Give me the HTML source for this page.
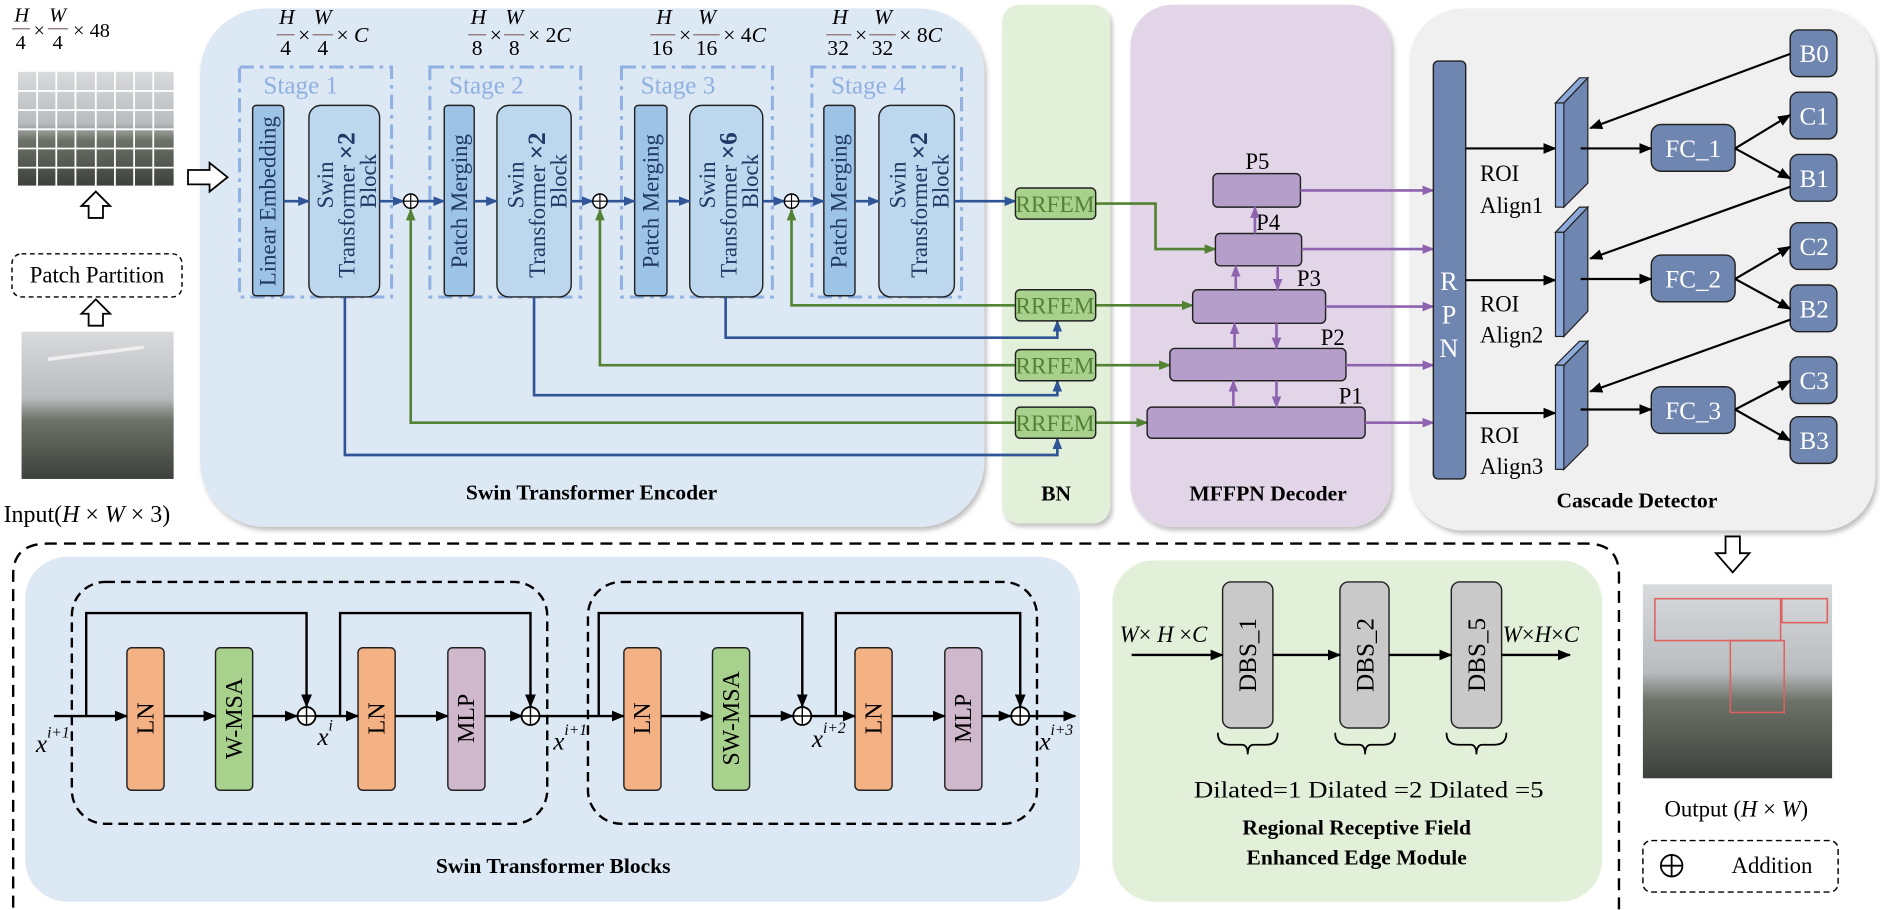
<!DOCTYPE html>
<html><head><meta charset="utf-8"><style>
html,body{margin:0;padding:0;background:#fff;}
svg{display:block;}
text{font-family:"Liberation Serif",serif;}
</style></head><body>
<svg width="1880" height="910" viewBox="0 0 1570 760" preserveAspectRatio="none" xmlns="http://www.w3.org/2000/svg">
<defs>
<marker id="ab" markerWidth="10" markerHeight="8" refX="9" refY="4" orient="auto" markerUnits="userSpaceOnUse"><path d="M0,0 L10,4 L0,8 z" fill="#2f5597"/></marker>
<marker id="ag" markerWidth="10" markerHeight="8" refX="9" refY="4" orient="auto" markerUnits="userSpaceOnUse"><path d="M0,0 L10,4 L0,8 z" fill="#548235"/></marker>
<marker id="ap" markerWidth="10" markerHeight="8" refX="9" refY="4" orient="auto" markerUnits="userSpaceOnUse"><path d="M0,0 L10,4 L0,8 z" fill="#8e63b0"/></marker>
<marker id="ak" markerWidth="11" markerHeight="9" refX="10" refY="4.5" orient="auto" markerUnits="userSpaceOnUse"><path d="M0,0 L11,4.5 L0,9 z" fill="#000"/></marker>
<linearGradient id="photo" x1="0" y1="0" x2="0" y2="1"><stop offset="0" stop-color="#d8dadc"/><stop offset="0.45" stop-color="#b9bcbf"/><stop offset="0.6" stop-color="#6d7368"/><stop offset="1" stop-color="#3d403c"/></linearGradient>
<filter id="sh" x="-5%" y="-5%" width="110%" height="110%"><feDropShadow dx="2" dy="3" stdDeviation="2" flood-color="#000" flood-opacity="0.25"/></filter>
</defs>

<rect x="167" y="7" width="655" height="433" rx="55" fill="#dde8f5" filter="url(#sh)"/>
<rect x="837" y="4" width="90" height="433" rx="14" fill="#e2efd9" filter="url(#sh)"/>
<rect x="944" y="4" width="218" height="436" rx="35" fill="#e1d5e7" filter="url(#sh)"/>
<rect x="1177" y="7" width="389" height="436" rx="45" fill="#f0f0f0" filter="url(#sh)"/>

<text x="494" y="417" font-size="18" font-weight="bold" text-anchor="middle">Swin Transformer Encoder</text>
<text x="882" y="418" font-size="18" font-weight="bold" text-anchor="middle">BN</text>
<text x="1059" y="418" font-size="18" font-weight="bold" text-anchor="middle">MFFPN Decoder</text>
<text x="1367" y="424" font-size="18" font-weight="bold" text-anchor="middle">Cascade Detector</text>

<g font-size="17" font-style="italic">
<text x="12" y="18">H</text><line x1="10" y1="24" x2="25" y2="24" stroke="#8a6f6f" stroke-width="1"/><text x="13" y="41" font-style="normal">4</text>
<text x="28" y="31" font-style="normal">×</text>
<text x="41" y="18">W</text><line x1="40" y1="24" x2="57" y2="24" stroke="#8a6f6f" stroke-width="1"/><text x="44" y="41" font-style="normal">4</text>
<text x="61" y="31" font-style="normal">× 48</text>
</g>
<rect x="15" y="60" width="130" height="95" fill="url(#photo)"/>
<g stroke="#fff" stroke-width="1.5">
<line x1="31" y1="60" x2="31" y2="155"/><line x1="47" y1="60" x2="47" y2="155"/><line x1="63" y1="60" x2="63" y2="155"/><line x1="80" y1="60" x2="80" y2="155"/><line x1="96" y1="60" x2="96" y2="155"/><line x1="112" y1="60" x2="112" y2="155"/><line x1="128" y1="60" x2="128" y2="155"/>
<line x1="15" y1="76" x2="145" y2="76"/><line x1="15" y1="92" x2="145" y2="92"/><line x1="15" y1="108" x2="145" y2="108"/><line x1="15" y1="124" x2="145" y2="124"/><line x1="15" y1="140" x2="145" y2="140"/>
</g>
<path d="M74,182 L74,172 L68,172 L80,160 L92,172 L86,172 L86,182 z" fill="#fff" stroke="#000" stroke-width="1.5"/>
<rect x="10" y="212" width="142" height="36" rx="8" fill="#fff" stroke="#000" stroke-width="1.2" stroke-dasharray="4,3"/>
<text x="81" y="236" font-size="19" text-anchor="middle">Patch Partition</text>
<path d="M74,272 L74,262 L68,262 L80,250 L92,262 L86,262 L86,272 z" fill="#fff" stroke="#000" stroke-width="1.5"/>
<rect x="18" y="277" width="127" height="123" fill="url(#photo)"/>
<line x1="40" y1="300" x2="120" y2="290" stroke="#eee" stroke-width="3"/>
<text x="3" y="436" font-size="20">Input(<tspan font-style="italic">H</tspan> × <tspan font-style="italic">W</tspan> × 3)</text>
<path d="M157,142 L175,142 L175,136 L190,148 L175,160 L175,154 L157,154 z" fill="#fff" stroke="#000" stroke-width="1.5"/>

<g font-size="18">
<g transform="translate(231,0)"><text x="2" y="20" font-style="italic">H</text><line x1="0" y1="29" x2="15" y2="29" stroke="#8a6f6f"/><text x="3" y="46">4</text><text x="18" y="35">×</text><text x="31" y="20" font-style="italic">W</text><line x1="30" y1="29" x2="47" y2="29" stroke="#8a6f6f"/><text x="34" y="46">4</text><text x="50" y="35">× <tspan font-style="italic">C</tspan></text></g>
<g transform="translate(391,0)"><text x="2" y="20" font-style="italic">H</text><line x1="0" y1="29" x2="15" y2="29" stroke="#8a6f6f"/><text x="3" y="46">8</text><text x="18" y="35">×</text><text x="31" y="20" font-style="italic">W</text><line x1="30" y1="29" x2="47" y2="29" stroke="#8a6f6f"/><text x="34" y="46">8</text><text x="50" y="35">× 2<tspan font-style="italic">C</tspan></text></g>
<g transform="translate(543,0)"><text x="5" y="20" font-style="italic">H</text><line x1="0" y1="29" x2="21" y2="29" stroke="#8a6f6f"/><text x="1" y="46">16</text><text x="24" y="35">×</text><text x="40" y="20" font-style="italic">W</text><line x1="36" y1="29" x2="58" y2="29" stroke="#8a6f6f"/><text x="38" y="46">16</text><text x="61" y="35">× 4<tspan font-style="italic">C</tspan></text></g>
<g transform="translate(690,0)"><text x="5" y="20" font-style="italic">H</text><line x1="0" y1="29" x2="21" y2="29" stroke="#8a6f6f"/><text x="1" y="46">32</text><text x="24" y="35">×</text><text x="40" y="20" font-style="italic">W</text><line x1="36" y1="29" x2="58" y2="29" stroke="#8a6f6f"/><text x="38" y="46">32</text><text x="61" y="35">× 8<tspan font-style="italic">C</tspan></text></g>
</g>

<g fill="none" stroke="#8fb0e0" stroke-width="2.5" stroke-dasharray="12,5,3,5">
<rect x="200" y="56" width="127" height="192"/>
<rect x="359" y="56" width="126" height="192"/>
<rect x="519" y="56" width="126" height="192"/>
<rect x="678" y="56" width="125" height="192"/>
</g>
<g font-size="21" fill="#8fb0e0">
<text x="220" y="78">Stage 1</text><text x="375" y="78">Stage 2</text><text x="535" y="78">Stage 3</text><text x="694" y="78">Stage 4</text>
</g>

<g stroke="#222" stroke-width="1.2">
<rect x="211" y="88" width="26" height="159" rx="3" fill="#9dc3e6"/>
<rect x="371" y="88" width="25" height="159" rx="3" fill="#9dc3e6"/>
<rect x="530" y="88" width="27" height="159" rx="3" fill="#9dc3e6"/>
<rect x="688" y="88" width="26" height="159" rx="3" fill="#9dc3e6"/>
<rect x="258" y="88" width="59" height="160" rx="10" fill="#bdd7ee"/>
<rect x="415" y="88" width="62" height="160" rx="10" fill="#bdd7ee"/>
<rect x="576" y="88" width="61" height="160" rx="10" fill="#bdd7ee"/>
<rect x="734" y="88" width="63" height="160" rx="10" fill="#bdd7ee"/>
</g>
<g font-size="19" fill="#1f3864" text-anchor="middle">
<text transform="translate(230,168) rotate(-90)">Linear Embedding</text>
<text transform="translate(390,168) rotate(-90)">Patch Merging</text>
<text transform="translate(550,168) rotate(-90)">Patch Merging</text>
<text transform="translate(707,168) rotate(-90)">Patch Merging</text>
</g>
<g font-size="19" fill="#1f3864">
<g transform="translate(287,168) rotate(-90)"><text x="-6" y="-9">Swin</text><text x="-64" y="9">Transformer <tspan font-size="21" font-weight="bold">×2</tspan></text><text x="-6" y="27">Block</text></g>
<g transform="translate(446,168) rotate(-90)"><text x="-6" y="-9">Swin</text><text x="-64" y="9">Transformer <tspan font-size="21" font-weight="bold">×2</tspan></text><text x="-6" y="27">Block</text></g>
<g transform="translate(606,168) rotate(-90)"><text x="-6" y="-9">Swin</text><text x="-64" y="9">Transformer <tspan font-size="21" font-weight="bold">×6</tspan></text><text x="-6" y="27">Block</text></g>
<g transform="translate(765,168) rotate(-90)"><text x="-6" y="-9">Swin</text><text x="-64" y="9">Transformer <tspan font-size="21" font-weight="bold">×2</tspan></text><text x="-6" y="27">Block</text></g>
</g>

<g stroke="#2f5597" stroke-width="2.2" fill="none" marker-end="url(#ab)">
<line x1="237" y1="168" x2="258" y2="168"/>
<line x1="317" y1="168" x2="337" y2="168"/>
<line x1="349" y1="168" x2="371" y2="168"/>
<line x1="396" y1="168" x2="415" y2="168"/>
<line x1="477" y1="168" x2="495" y2="168"/>
<line x1="507" y1="168" x2="530" y2="168"/>
<line x1="557" y1="168" x2="576" y2="168"/>
<line x1="637" y1="168" x2="655" y2="168"/>
<line x1="667" y1="168" x2="688" y2="168"/>
<line x1="714" y1="168" x2="734" y2="168"/>
<line x1="797" y1="168" x2="848" y2="168"/>
<polyline points="606,248 606,282 883,282 883,268"/>
<polyline points="446,248 446,330 883,330 883,318"/>
<polyline points="288,248 288,380 883,380 883,366"/>
</g>
<g stroke="#548235" stroke-width="2.2" fill="none" marker-end="url(#ag)">
<polyline points="848,255 661,255 661,175"/>
<polyline points="848,305 501,305 501,175"/>
<polyline points="848,353 343,353 343,175"/>
<polyline points="915,170 965,170 965,208 1015,208"/>
<line x1="915" y1="255" x2="996" y2="255"/>
<line x1="915" y1="305" x2="977" y2="305"/>
<line x1="915" y1="353" x2="958" y2="353"/>
</g>
<g fill="#fff" stroke="#000" stroke-width="1.2">
<circle cx="343" cy="168" r="6"/><circle cx="501" cy="168" r="6"/><circle cx="661" cy="168" r="6"/>
</g>
<g stroke="#000" stroke-width="1">
<line x1="337" y1="168" x2="349" y2="168"/><line x1="343" y1="162" x2="343" y2="174"/>
<line x1="495" y1="168" x2="507" y2="168"/><line x1="501" y1="162" x2="501" y2="174"/>
<line x1="655" y1="168" x2="667" y2="168"/><line x1="661" y1="162" x2="661" y2="174"/>
</g>

<g stroke="#222" stroke-width="1.2" fill="#a9d18e">
<rect x="848" y="157" width="67" height="26" rx="4"/>
<rect x="848" y="242" width="67" height="26" rx="4"/>
<rect x="848" y="292" width="67" height="26" rx="4"/>
<rect x="848" y="340" width="67" height="26" rx="4"/>
</g>
<g font-size="19" fill="#548235" text-anchor="middle" textLength="66">
<text x="881" y="177" textLength="66" lengthAdjust="spacingAndGlyphs">RRFEM</text><text x="881" y="262" textLength="66" lengthAdjust="spacingAndGlyphs">RRFEM</text><text x="881" y="312" textLength="66" lengthAdjust="spacingAndGlyphs">RRFEM</text><text x="881" y="360" textLength="66" lengthAdjust="spacingAndGlyphs">RRFEM</text>
</g>

<g stroke="#222" stroke-width="1.2" fill="#b59fca">
<rect x="1013" y="145" width="73" height="28" rx="4"/>
<rect x="1015" y="195" width="72" height="27" rx="4"/>
<rect x="996" y="242" width="111" height="28" rx="4"/>
<rect x="977" y="291" width="147" height="27" rx="4"/>
<rect x="958" y="340" width="182" height="26" rx="4"/>
</g>
<g font-size="19">
<text x="1040" y="141">P5</text><text x="1049" y="192">P4</text><text x="1083" y="239">P3</text><text x="1103" y="288">P2</text><text x="1118" y="337">P1</text>
</g>
<g stroke="#8e63b0" stroke-width="2.2" fill="none" marker-end="url(#ap)">
<line x1="1086" y1="159" x2="1197" y2="159"/>
<line x1="1087" y1="208" x2="1197" y2="208"/>
<line x1="1107" y1="256" x2="1197" y2="256"/>
<line x1="1124" y1="305" x2="1197" y2="305"/>
<line x1="1140" y1="353" x2="1197" y2="353"/>
<line x1="1048" y1="195" x2="1048" y2="173"/>
<line x1="1032" y1="242" x2="1032" y2="222"/>
<line x1="1067" y1="222" x2="1067" y2="242"/>
<line x1="1031" y1="291" x2="1031" y2="270"/>
<line x1="1066" y1="270" x2="1066" y2="291"/>
<line x1="1030" y1="340" x2="1030" y2="318"/>
<line x1="1066" y1="318" x2="1066" y2="340"/>
</g>

<rect x="1197" y="51" width="27" height="349" rx="4" fill="#6f86b0" stroke="#222" stroke-width="1.2"/>
<g font-size="22" fill="#fff" text-anchor="middle"><text x="1210" y="242">R</text><text x="1210" y="270">P</text><text x="1210" y="298">N</text></g>
<g stroke="#000" stroke-width="1.8" marker-end="url(#ak)">
<line x1="1224" y1="124" x2="1299" y2="124"/>
<line x1="1224" y1="234" x2="1299" y2="234"/>
<line x1="1224" y1="345" x2="1299" y2="345"/>
</g>
<g font-size="19">
<text x="1236" y="151">ROI</text><text x="1236" y="178">Align1</text>
<text x="1236" y="260">ROI</text><text x="1236" y="286">Align2</text>
<text x="1236" y="370">ROI</text><text x="1236" y="396">Align3</text>
</g>
<g stroke="#222" stroke-width="1">
<path d="M1306,86 L1326,65 L1326,153 L1306,173 z" fill="#6f86b0"/><path d="M1299,86 L1319,65 L1326,65 L1306,86 z" fill="#8eaadb"/><rect x="1299" y="86" width="7" height="87" fill="#8eaadb"/>
<path d="M1306,194 L1326,173 L1326,260 L1306,281 z" fill="#6f86b0"/><path d="M1299,194 L1319,173 L1326,173 L1306,194 z" fill="#8eaadb"/><rect x="1299" y="194" width="7" height="87" fill="#8eaadb"/>
<path d="M1306,305 L1326,285 L1326,372 L1306,392 z" fill="#6f86b0"/><path d="M1299,305 L1319,285 L1326,285 L1306,305 z" fill="#8eaadb"/><rect x="1299" y="305" width="7" height="87" fill="#8eaadb"/>
</g>
<g stroke="#222" stroke-width="1.2" fill="#6f86b0">
<rect x="1379" y="104" width="70" height="39" rx="8"/>
<rect x="1379" y="213" width="70" height="39" rx="8"/>
<rect x="1379" y="323" width="70" height="39" rx="8"/>
<rect x="1495" y="25" width="39" height="39" rx="7"/>
<rect x="1495" y="77" width="39" height="39" rx="7"/>
<rect x="1495" y="129" width="39" height="39" rx="7"/>
<rect x="1495" y="186" width="39" height="39" rx="7"/>
<rect x="1495" y="238" width="39" height="39" rx="7"/>
<rect x="1495" y="298" width="39" height="39" rx="7"/>
<rect x="1495" y="348" width="39" height="39" rx="7"/>
</g>
<g font-size="21" fill="#fff" text-anchor="middle">
<text x="1414" y="131">FC_1</text><text x="1414" y="240">FC_2</text><text x="1414" y="350">FC_3</text>
<text x="1515" y="52">B0</text><text x="1515" y="104">C1</text><text x="1515" y="156">B1</text><text x="1515" y="213">C2</text><text x="1515" y="265">B2</text><text x="1515" y="325">C3</text><text x="1515" y="375">B3</text>
</g>
<g stroke="#000" stroke-width="1.8" marker-end="url(#ak)">
<line x1="1320" y1="124" x2="1379" y2="124"/>
<line x1="1320" y1="233" x2="1379" y2="233"/>
<line x1="1320" y1="342" x2="1379" y2="342"/>
<line x1="1449" y1="124" x2="1495" y2="96"/>
<line x1="1449" y1="124" x2="1495" y2="149"/>
<line x1="1449" y1="233" x2="1495" y2="206"/>
<line x1="1449" y1="233" x2="1495" y2="258"/>
<line x1="1449" y1="342" x2="1495" y2="318"/>
<line x1="1449" y1="342" x2="1495" y2="368"/>
<line x1="1495" y1="45" x2="1328" y2="107"/>
<line x1="1495" y1="156" x2="1328" y2="216"/>
<line x1="1495" y1="267" x2="1328" y2="327"/>
</g>

<path d="M11,790 L11,480 Q11,454 40,454 L1325,454 Q1352,454 1352,480 L1352,790" fill="none" stroke="#000" stroke-width="2" stroke-dasharray="10,6"/>
<rect x="21" y="465" width="881" height="288" rx="35" fill="#dde8f5"/>
<rect x="929" y="468" width="409" height="285" rx="35" fill="#e2efd9"/>
<text x="462" y="729" font-size="18" font-weight="bold" text-anchor="middle">Swin Transformer Blocks</text>
<text x="1133" y="697" font-size="18" font-weight="bold" text-anchor="middle">Regional Receptive Field</text>
<text x="1133" y="722" font-size="18" font-weight="bold" text-anchor="middle">Enhanced Edge Module</text>

<g fill="none" stroke="#000" stroke-width="2" stroke-dasharray="8,5">
<rect x="60" y="486" width="397" height="202" rx="28"/>
<rect x="491" y="486" width="375" height="202" rx="28"/>
</g>
<g stroke="#222" stroke-width="1.2">
<rect x="106" y="541" width="31" height="119" rx="4" fill="#f4b183"/>
<rect x="180" y="541" width="31" height="119" rx="4" fill="#a9d18e"/>
<rect x="299" y="541" width="31" height="119" rx="4" fill="#f4b183"/>
<rect x="374" y="541" width="31" height="119" rx="4" fill="#d0b8cc"/>
<rect x="521" y="541" width="31" height="119" rx="4" fill="#f4b183"/>
<rect x="595" y="541" width="31" height="119" rx="4" fill="#a9d18e"/>
<rect x="714" y="541" width="31" height="119" rx="4" fill="#f4b183"/>
<rect x="789" y="541" width="31" height="119" rx="4" fill="#d0b8cc"/>
</g>
<g font-size="20" text-anchor="middle">
<text transform="translate(128,600) rotate(-90)">LN</text>
<text transform="translate(202,600) rotate(-90)">W-MSA</text>
<text transform="translate(321,600) rotate(-90)">LN</text>
<text transform="translate(396,600) rotate(-90)">MLP</text>
<text transform="translate(543,600) rotate(-90)">LN</text>
<text transform="translate(617,600) rotate(-90)">SW-MSA</text>
<text transform="translate(736,600) rotate(-90)">LN</text>
<text transform="translate(811,600) rotate(-90)">MLP</text>
</g>
<g stroke="#000" stroke-width="2" fill="none" marker-end="url(#ak)">
<line x1="45" y1="598" x2="106" y2="598"/>
<line x1="137" y1="598" x2="180" y2="598"/>
<line x1="211" y1="598" x2="248" y2="598"/>
<line x1="263" y1="598" x2="299" y2="598"/>
<line x1="330" y1="598" x2="374" y2="598"/>
<line x1="405" y1="598" x2="436" y2="598"/>
<line x1="451" y1="598" x2="521" y2="598"/>
<line x1="552" y1="598" x2="595" y2="598"/>
<line x1="626" y1="598" x2="662" y2="598"/>
<line x1="677" y1="598" x2="714" y2="598"/>
<line x1="745" y1="598" x2="789" y2="598"/>
<line x1="820" y1="598" x2="844" y2="598"/>
<line x1="859" y1="598" x2="898" y2="598"/>
<polyline points="72,598 72,512 256,512 256,590"/>
<polyline points="284,598 284,512 443,512 443,590"/>
<polyline points="500,598 500,512 670,512 670,590"/>
<polyline points="698,598 698,512 852,512 852,590"/>
</g>
<g fill="#fff" stroke="#000" stroke-width="1.5">
<circle cx="256" cy="598" r="7.5"/><circle cx="443" cy="598" r="7.5"/><circle cx="670" cy="598" r="7.5"/><circle cx="852" cy="598" r="7.5"/>
</g>
<g stroke="#000" stroke-width="1.2">
<line x1="248.5" y1="598" x2="263.5" y2="598"/><line x1="256" y1="590.5" x2="256" y2="605.5"/>
<line x1="435.5" y1="598" x2="450.5" y2="598"/><line x1="443" y1="590.5" x2="443" y2="605.5"/>
<line x1="662.5" y1="598" x2="677.5" y2="598"/><line x1="670" y1="590.5" x2="670" y2="605.5"/>
<line x1="844.5" y1="598" x2="859.5" y2="598"/><line x1="852" y1="590.5" x2="852" y2="605.5"/>
</g>
<g font-size="21" font-style="italic">
<text x="30" y="628">x<tspan font-size="13" dy="-12">i+1</tspan></text>
<text x="265" y="622">x<tspan font-size="13" dy="-12">i</tspan></text>
<text x="462" y="626">x<tspan font-size="13" dy="-12">i+1</tspan></text>
<text x="678" y="624">x<tspan font-size="13" dy="-12">i+2</tspan></text>
<text x="868" y="626">x<tspan font-size="13" dy="-12">i+3</tspan></text>
</g>

<g stroke="#222" stroke-width="1.2" fill="#c9c9c9">
<rect x="1021" y="486" width="42" height="122" rx="7"/>
<rect x="1119" y="486" width="41" height="122" rx="7"/>
<rect x="1212" y="486" width="42" height="122" rx="7"/>
</g>
<g font-size="21" text-anchor="middle">
<text transform="translate(1049,547) rotate(-90)">DBS_1</text>
<text transform="translate(1147,547) rotate(-90)">DBS_2</text>
<text transform="translate(1240,547) rotate(-90)">DBS_5</text>
</g>
<g stroke="#000" stroke-width="2" marker-end="url(#ak)">
<line x1="945" y1="547" x2="1021" y2="547"/>
<line x1="1063" y1="547" x2="1119" y2="547"/>
<line x1="1160" y1="547" x2="1212" y2="547"/>
<line x1="1254" y1="547" x2="1311" y2="547"/>
</g>
<g font-size="19" font-style="italic">
<text x="935" y="536">W<tspan font-style="normal">×</tspan> H <tspan font-style="normal">×</tspan>C</text>
<text x="1255" y="536">W<tspan font-style="normal">×</tspan>H<tspan font-style="normal">×</tspan>C</text>
</g>
<g fill="none" stroke="#000" stroke-width="1.5">
<path d="M1017,612 Q1017,622 1027,622 L1037,622 Q1042,622 1042,630 Q1042,622 1047,622 L1057,622 Q1067,622 1067,612"/>
<path d="M1115,612 Q1115,622 1125,622 L1135,622 Q1140,622 1140,630 Q1140,622 1145,622 L1155,622 Q1165,622 1165,612"/>
<path d="M1208,612 Q1208,622 1218,622 L1228,622 Q1233,622 1233,630 Q1233,622 1238,622 L1248,622 Q1258,622 1258,612"/>
</g>
<text x="997" y="666" font-size="19" textLength="292" lengthAdjust="spacingAndGlyphs">Dilated=1 Dilated =2 Dilated =5</text>

<path d="M1441,448 L1453,448 L1453,462 L1461,462 L1447,478 L1433,462 L1441,462 z" fill="#fff" stroke="#000" stroke-width="1.5"/>
<rect x="1372" y="488" width="158" height="162" fill="url(#photo)"/>
<g fill="none" stroke="#e06060" stroke-width="1.3">
<rect x="1382" y="500" width="105" height="35"/><rect x="1488" y="500" width="38" height="20"/><rect x="1445" y="535" width="45" height="60"/>
</g>
<text x="1390" y="682" font-size="19">Output (<tspan font-style="italic">H</tspan> × <tspan font-style="italic">W</tspan>)</text>
<rect x="1372" y="702" width="163" height="43" rx="7" fill="#fff" stroke="#000" stroke-width="1.2" stroke-dasharray="5,3"/>
<circle cx="1396" cy="723" r="9" fill="#fff" stroke="#000" stroke-width="1.5"/>
<line x1="1387" y1="723" x2="1405" y2="723" stroke="#000" stroke-width="1.5"/><line x1="1396" y1="714" x2="1396" y2="732" stroke="#000" stroke-width="1.5"/>
<text x="1446" y="729" font-size="19">Addition</text>
</svg>
</body></html>
